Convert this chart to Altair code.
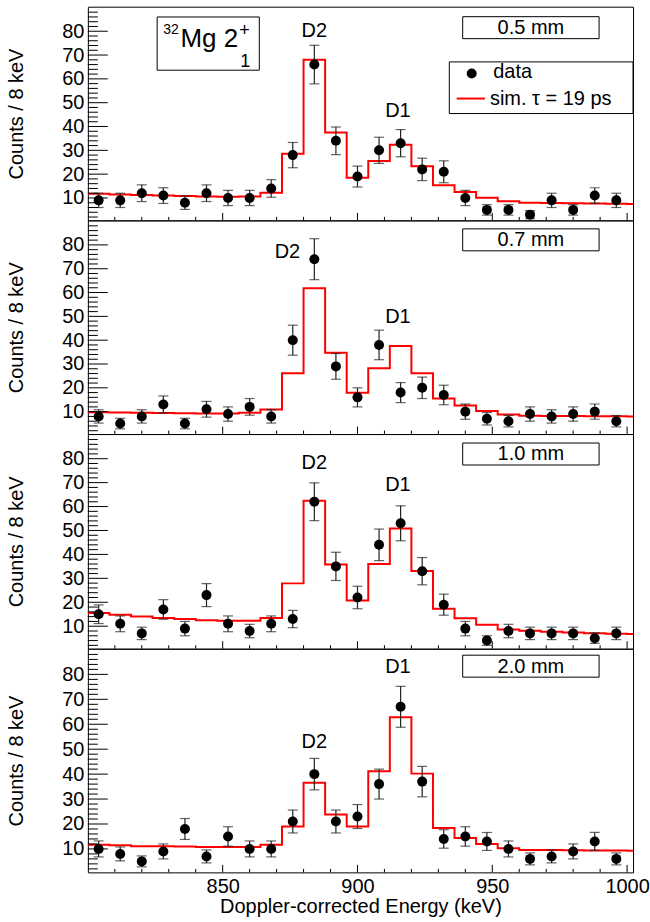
import altair as alt
import pandas as pd

FONT = "Liberation Sans, Arial, Helvetica, sans-serif"

# ---------------- data ----------------
ENERGY = [804, 812, 820, 828, 836, 844, 852, 860, 868, 876, 884, 892, 900,
          908, 916, 924, 932, 940, 948, 956, 964, 972, 980, 988, 996]
BIN_EDGES = [800, 808, 816, 824, 832, 840, 848, 856, 864, 872, 880, 888, 896,
             904, 912, 920, 928, 936, 944, 952, 960, 968, 976, 984, 992, 1000, 1008]

COUNTS_05 = [9, 9, 12, 11, 8, 12, 10, 10, 14, 28, 66, 34, 19, 30, 33, 22, 21, 10, 5, 5, 3, 9, 5, 11, 9]
ERR_05 = [3.0, 3.0, 3.5, 3.3, 2.8, 3.5, 3.2, 3.2, 3.7, 5.3, 8.1, 5.8, 4.4, 5.5, 5.7, 4.7, 4.6, 3.2, 2.2, 2.2, 1.7, 3.0, 2.2, 3.3, 3.0]
SIM_05 = [11.8, 11.5, 11.2, 11.0, 10.8, 10.6, 10.5, 10.6, 12.2, 28.6, 68.0, 37.5, 18.5, 25.5, 32.3, 23.3,
          15.3, 12.5, 10.1, 8.6, 8.0, 7.9, 7.8, 7.7, 7.6, 7.5, 7.5]

COUNTS_07 = [8, 5, 8, 13, 5, 11, 9, 12, 8, 40, 74, 29, 16, 38, 18, 20, 17, 10, 7, 6, 9, 8, 9, 10, 6]
ERR_07 = [2.8, 2.2, 2.8, 3.6, 2.2, 3.3, 3.0, 3.5, 2.8, 6.3, 8.6, 5.4, 4.0, 6.2, 4.2, 4.5, 4.1, 3.2, 2.6, 2.4, 3.0, 2.8, 3.0, 3.2, 2.4]
SIM_07 = [9.7, 9.6, 9.5, 9.4, 9.3, 9.2, 9.2, 9.5, 10.9, 26.1, 61.8, 34.7, 17.9, 28.2, 37.6, 26.1,
          15.5, 12.6, 10.3, 8.8, 8.3, 8.2, 8.2, 8.1, 8.1, 8.0, 8.0]

COUNTS_10 = [15, 11, 7, 17, 9, 23, 11, 8, 11, 13, 62, 35, 22, 44, 53, 33, 19, 9, 4, 8, 7, 7, 7, 5, 7]
ERR_10 = [3.9, 3.3, 2.6, 4.1, 3.0, 4.8, 3.3, 2.8, 3.3, 3.6, 7.9, 5.9, 4.7, 6.6, 7.3, 5.7, 4.4, 3.0, 2.0, 2.8, 2.6, 2.6, 2.6, 2.2, 2.6]
SIM_10 = [15.5, 14.8, 14.1, 13.4, 13.0, 12.5, 12.3, 12.3, 13.4, 27.9, 62.4, 35.8, 20.7, 36.0, 50.8, 33.1,
          17.3, 13.3, 10.6, 8.6, 8.1, 7.7, 7.4, 7.1, 6.8, 6.7, 6.7]

COUNTS_20 = [10, 8, 5, 9, 18, 7, 15, 10, 10, 21, 40, 21, 23, 36, 67, 37, 14, 15, 13, 10, 6, 7, 9, 13, 6]
ERR_20 = [3.2, 2.8, 2.2, 3.0, 4.2, 2.6, 3.9, 3.2, 3.2, 4.6, 6.3, 4.6, 4.8, 6.0, 8.2, 6.1, 3.7, 3.9, 3.6, 3.2, 2.4, 2.6, 3.0, 3.6, 2.4]
SIM_20 = [11.7, 11.5, 11.1, 11.1, 11.0, 10.8, 10.8, 10.8, 11.7, 19.0, 36.5, 23.8, 19.0, 41.2, 62.8, 40.2,
          18.4, 14.4, 12.0, 10.3, 9.6, 9.6, 9.5, 9.4, 9.4, 9.3, 9.3]

PANEL_LABELS = ["0.5 mm", "0.7 mm", "1.0 mm", "2.0 mm"]
PEAK_NAMES = ["D2", "D1"]
PEAK_ENERGY = [[884, 915], [874, 915], [884, 915], [884, 915]]
PEAK_LABEL_Y = [[80, 46.5], [77, 49.6], [78, 68.8], [53, 83.1]]

X_TICK_LABELS = [850, 900, 950, 1000]
X_MINOR = [810, 820, 830, 840, 860, 870, 880, 890, 910, 920, 930, 940, 960, 970, 980, 990]
Y_TICK_LABELS = [10, 20, 30, 40, 50, 60, 70, 80]
Y_MINOR = [2, 4, 6, 8, 12, 14, 16, 18, 22, 24, 26, 28, 32, 34, 36, 38, 42, 44, 46, 48,
           52, 54, 56, 58, 62, 64, 66, 68, 72, 74, 76, 78, 82, 84, 86, 88]

# ---------------- layout ----------------
XDOM = [800, 1002.2]
YDOM = [0.6, 90.3]
W = 546
HEIGHTS = [214, 214, 215, 224]
BOX_TOP = [10, 8.5, 9, 6.5]


def panel(idx, counts, errs, sim, show_x):
    H = HEIGHTS[idx]
    xs = alt.Scale(domain=XDOM, nice=False, zero=False)
    ys = alt.Scale(domain=YDOM, nice=False, zero=False)
    if show_x:
        xaxis = alt.Axis(values=X_TICK_LABELS, format="d", ticks=False, domain=False, grid=False,
                         labelFont=FONT, labelFontSize=20, labelPadding=4, labelColor="black",
                         labelFlush=False,
                         title="Doppler-corrected Energy (keV)", titleFont=FONT, titleFontSize=20,
                         titleFontWeight="normal", titleColor="black", titlePadding=0)
    else:
        xaxis = None
    yaxis = alt.Axis(values=Y_TICK_LABELS, ticks=False, domain=False, grid=False,
                     labelFont=FONT, labelFontSize=20, labelPadding=4, labelColor="black",
                     title="Counts / 8 keV", titleFont=FONT, titleFontSize=20,
                     titleFontWeight="normal", titleColor="black", titlePadding=35)

    def X(f):
        return alt.X(f, type="quantitative", scale=xs, axis=xaxis)

    def Y(f):
        return alt.Y(f, type="quantitative", scale=ys, axis=yaxis)

    df = pd.DataFrame({
        "E": ENERGY, "c": counts,
        "lo": [c - e for c, e in zip(counts, errs)],
        "hi": [c + e for c, e in zip(counts, errs)],
    })
    sdf = pd.DataFrame({"E": BIN_EDGES, "s": sim})

    line = alt.Chart(sdf).mark_line(interpolate="step-after", color="#ff0000",
                                    strokeWidth=2, clip=True).encode(x=X("E"), y=Y("s"))
    bars = alt.Chart(df).mark_rule(color="#222222", strokeWidth=1.2).encode(
        x=X("E"), y=Y("lo"), y2="hi")
    cap_lo = alt.Chart(df).mark_tick(orient="horizontal", size=10, thickness=1.2,
                                     color="#222222").encode(x=X("E"), y=Y("lo"))
    cap_hi = alt.Chart(df).mark_tick(orient="horizontal", size=10, thickness=1.2,
                                     color="#222222").encode(x=X("E"), y=Y("hi"))
    pts = alt.Chart(df).mark_point(filled=True, color="black", size=100, opacity=1).encode(
        x=X("E"), y=Y("c"))

    # inward axis ticks
    xmin = alt.Chart(pd.DataFrame({"t": X_MINOR})).mark_rule(color="black", strokeWidth=1).encode(
        x=X("t"), y=alt.value(H), y2=alt.value(H - 3.5))
    xmaj = alt.Chart(pd.DataFrame({"t": X_TICK_LABELS})).mark_rule(color="black", strokeWidth=1).encode(
        x=X("t"), y=alt.value(H), y2=alt.value(H - 7.5))
    ymin = alt.Chart(pd.DataFrame({"t": Y_MINOR})).mark_rule(color="black", strokeWidth=1).encode(
        y=Y("t"), x=alt.value(0), x2=alt.value(10))
    ymaj = alt.Chart(pd.DataFrame({"t": Y_TICK_LABELS})).mark_rule(color="black", strokeWidth=1).encode(
        y=Y("t"), x=alt.value(0), x2=alt.value(20))

    # peak labels
    pk = pd.DataFrame({"E": PEAK_ENERGY[idx], "y": PEAK_LABEL_Y[idx], "n": PEAK_NAMES})
    peaks = alt.Chart(pk).mark_text(font=FONT, fontSize=20, color="black",
                                    align="center", baseline="middle").encode(
        x=X("E"), y=Y("y"), text="n:N")

    # thickness label box
    bt = BOX_TOP[idx]
    one = pd.DataFrame({"k": [0]})
    box = alt.Chart(one).mark_rect(fill="white", stroke="black", strokeWidth=1).encode(
        x=alt.value(375.4), x2=alt.value(512), y=alt.value(bt), y2=alt.value(bt + 22))
    boxtxt = alt.Chart(one).mark_text(text=PANEL_LABELS[idx], font=FONT, fontSize=20, color="black",
                                      align="center", baseline="middle").encode(
        x=alt.value(443.7), y=alt.value(bt + 11.5))

    layers = [line, bars, cap_lo, cap_hi, pts, xmin, xmaj, ymin, ymaj, peaks, box, boxtxt]

    if idx == 0:
        leg_box = alt.Chart(one).mark_rect(fill="white", stroke="black", strokeWidth=1).encode(
            x=alt.value(362), x2=alt.value(546), y=alt.value(55.3), y2=alt.value(107))
        leg_pt = alt.Chart(one).mark_point(filled=True, color="black", size=100, opacity=1).encode(
            x=alt.value(384.4), y=alt.value(67))
        leg_t1 = alt.Chart(one).mark_text(text="data", font=FONT, fontSize=20, color="black",
                                          align="left", baseline="middle").encode(
            x=alt.value(406), y=alt.value(65.5))
        leg_ln = alt.Chart(one).mark_rule(color="#ff0000", strokeWidth=2).encode(
            x=alt.value(369.4), x2=alt.value(397.7), y=alt.value(92))
        leg_t2 = alt.Chart(one).mark_text(text="sim. \u03c4 = 19 ps", font=FONT, fontSize=20,
                                          color="black", align="left", baseline="middle").encode(
            x=alt.value(402.7), y=alt.value(92))
        mg_box = alt.Chart(one).mark_rect(fill="white", stroke="black", strokeWidth=1).encode(
            x=alt.value(69.4), x2=alt.value(171.7), y=alt.value(10.3), y2=alt.value(63.6))
        mg32 = alt.Chart(one).mark_text(text="32", font=FONT, fontSize=14, color="black",
                                        align="left", baseline="alphabetic").encode(
            x=alt.value(75.4), y=alt.value(27))
        mgmain = alt.Chart(one).mark_text(text="Mg 2", font=FONT, fontSize=26, color="black",
                                          align="left", baseline="alphabetic").encode(
            x=alt.value(92.7), y=alt.value(40.3))
        mgplus = alt.Chart(one).mark_text(text="+", font=FONT, fontSize=18, color="black",
                                          align="left", baseline="alphabetic").encode(
            x=alt.value(151.5), y=alt.value(29))
        mgsub = alt.Chart(one).mark_text(text="1", font=FONT, fontSize=18, color="black",
                                         align="left", baseline="alphabetic").encode(
            x=alt.value(152.7), y=alt.value(60.3))
        layers += [leg_box, leg_pt, leg_t1, leg_ln, leg_t2, mg_box, mg32, mgmain, mgplus, mgsub]

    return alt.layer(*layers).properties(width=W, height=H)


p1 = panel(0, COUNTS_05, ERR_05, SIM_05, False)
p2 = panel(1, COUNTS_07, ERR_07, SIM_07, False)
p3 = panel(2, COUNTS_10, ERR_10, SIM_10, False)
p4 = panel(3, COUNTS_20, ERR_20, SIM_20, True)

chart = alt.vconcat(p1, p2, p3, p4, spacing=0, bounds="flush").properties(
    padding={"left": 6, "top": 5, "right": 0, "bottom": 0},
    background="white",
).configure_view(stroke="black", strokeWidth=1)

chart.save("out.html", embed_options={"renderer": "svg", "actions": False})
